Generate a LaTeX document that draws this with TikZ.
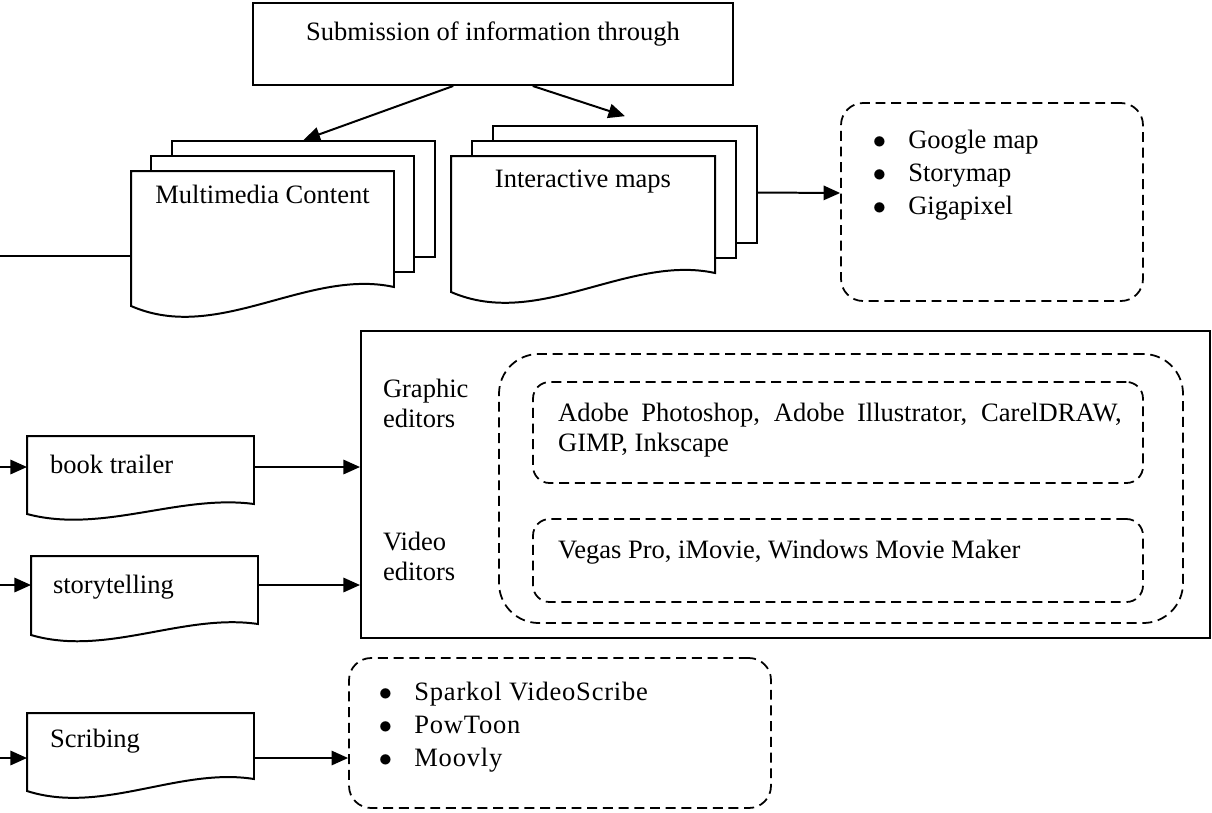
\documentclass[tikz,border=0pt]{standalone}
\usepackage{fontspec}
\setmainfont{Liberation Serif}
\newfontfamily\spacedfont[LetterSpace=3]{Liberation Serif}
\usepackage{tikz}
\usetikzlibrary{positioning}
\usetikzlibrary{fit}
\usetikzlibrary{calc}
\usetikzlibrary{arrows.meta}

% document shape: #1 node, #2 drop of the lower left corner
\newcommand{\docshape}[2]{%
  \draw[fill=white] (#1.south east) -- (#1.north east) -- (#1.north west) -- ($(#1.south west)+(0,#2)$)
    .. controls ($(#1.south west)!0.33!(#1.south east)+(0,3*#2)$) and ($(#1.south west)!0.67!(#1.south east)+(0,-#2)$) .. (#1.south east) -- cycle;}
\newcommand{\bul}{\makebox[16pt][l]{$\bullet$}}

\begin{document}
\begin{tikzpicture}[x=0.0159cm,y=-0.0159cm,->/.style={-{Triangle[length=7.5pt,width=6.5pt]}},
	line width=0.9pt,font=\fontsize{12pt}{13.6pt}\selectfont,
	box/.style={draw,inner sep=0},
	hidden/.style={inner sep=0},
	page/.style={draw,fill=white,inner sep=0},
	dashbox/.style={draw,inner sep=0,rounded corners=#1,line width=0.8pt,dash pattern=on 4.5pt off 2.6pt},
	dashbox/.default=10pt,
	lbl/.style={inner sep=0,align=left},
	listtext/.style={inner sep=0,align=left,font=\fontsize{12pt}{15pt}\selectfont}]
	
	\useasboundingbox (0,0) rectangle (1212,812);
	
	% top
	\node[box, fit={(253,3) (733,85)}] (sub) {};
	\node[lbl, below=8.6pt of sub.north] {Submission of information through};
	
	% multimedia content
	\node[hidden, fit={(132,172) (393,286)}] (mm) {};
	\node[page, fit={($(mm.north west)+(41,-30)$) ($(mm.south east)+(41,-30)$)}] (mm3) {};
	\node[page, fit={($(mm.north west)+(20,-15)$) ($(mm.south east)+(20,-15)$)}] (mm2) {};
	\docshape{mm}{19}
	\node[lbl, below=6pt of mm.north] {Multimedia Content};
	
	% interactive maps
	\node[hidden, fit={(452,157) (714,272)}] (im) {};
	\node[page, fit={($(im.north west)+(42,-30)$) ($(im.south east)+(42,-30)$)}] (im3) {};
	\node[page, fit={($(im.north west)+(21,-15)$) ($(im.south east)+(21,-15)$)}] (im2) {};
	\docshape{im}{19}
	\node[lbl, below=6pt of im.north] {Interactive maps};
	
	\node[dashbox, fit={(841,103) (1143,301)}] (gbox) {};
	\node[listtext, below right=12pt and 14.4pt of gbox.north west] {\bul Google map\\\bul Storymap\\\bul Gigapixel};
	
	% left column
	\node[hidden, fit={(28,437) (253,503)}] (bt) {};
	\docshape{bt}{10}
	\node[lbl, below right=8pt and 10pt of bt.north west] {book trailer};
	\node[hidden, fit={(32,557) (257,623)}] (st) {};
	\docshape{st}{11}
	\node[lbl, below right=8pt and 9.5pt of st.north west] {storytelling};
	\node[hidden, fit={(28,714) (253,778)}] (sc) {};
	\docshape{sc}{12}
	\node[lbl, below right=7pt and 10pt of sc.north west] {Scribing};
	
	% editors
	\node[box, fit={(361,331) (1210,638)}] (tools) {};
	\node[lbl, anchor=north west] (ge) at (382,378) {Graphic\\editors};
	\node[lbl, anchor=north west] (ve) at (382,531) {Video\\editors};
	\node[dashbox=18pt, fit={(499,354) (1183,623)}] (edbox) {};
	\node[dashbox=7.5pt, fit={(533,382) (1143,483)}] (gfx) {};
	\node[lbl, text width=255pt, align=justify, below right=9.5pt and 11.3pt of gfx.north west] {Adobe Photoshop, Adobe Illustrator, CarelDRAW, GIMP, Inkscape};
	\node[dashbox=7.5pt, fit={(533,519) (1143,602)}] (vid) {};
	\node[lbl, below right=9.5pt and 11.3pt of vid.north west] {Vegas Pro, iMovie, Windows Movie Maker};
	
	\node[dashbox, fit={(349,658) (771,808)}] (sbox) {};
	\node[listtext, font=\spacedfont\fontsize{12pt}{15pt}\selectfont, below right=10.8pt and 13.5pt of sbox.north west] {\bul Sparkol VideoScribe\\\bul PowToon\\\bul Moovly};
	
	% connectors
	\coordinate (inMM) at (0,256);
	\coordinate (inBT) at (0,467);
	\coordinate (inST) at (0,585);
	\coordinate (inSC) at (0,758);
	
	\draw (inMM) -- (inMM -| mm.west);
	\draw[->] (inBT) -- (inBT -| bt.west);
	\draw[->] (inST) -- (inST -| st.west);
	\draw[->] (inSC) -- (inSC -| sc.west);
	\draw[->] (inBT -| bt.east) -- (inBT -| tools.west);
	\draw[->] (inST -| st.east) -- (inST -| tools.west);
	\draw[->] (inSC -| sc.east) -- (inSC -| sbox.west);
	\draw[->] ([xshift=-18pt]sub.south) -- (mm3.north);
	\draw[->] ([xshift=18pt]sub.south) -- ([yshift=4pt]im3.north);
	\draw[->] ($(im3.east)+(0,8)$) -- ($(gbox.west)+(0,-9)$);
\end{tikzpicture}
\end{document}
